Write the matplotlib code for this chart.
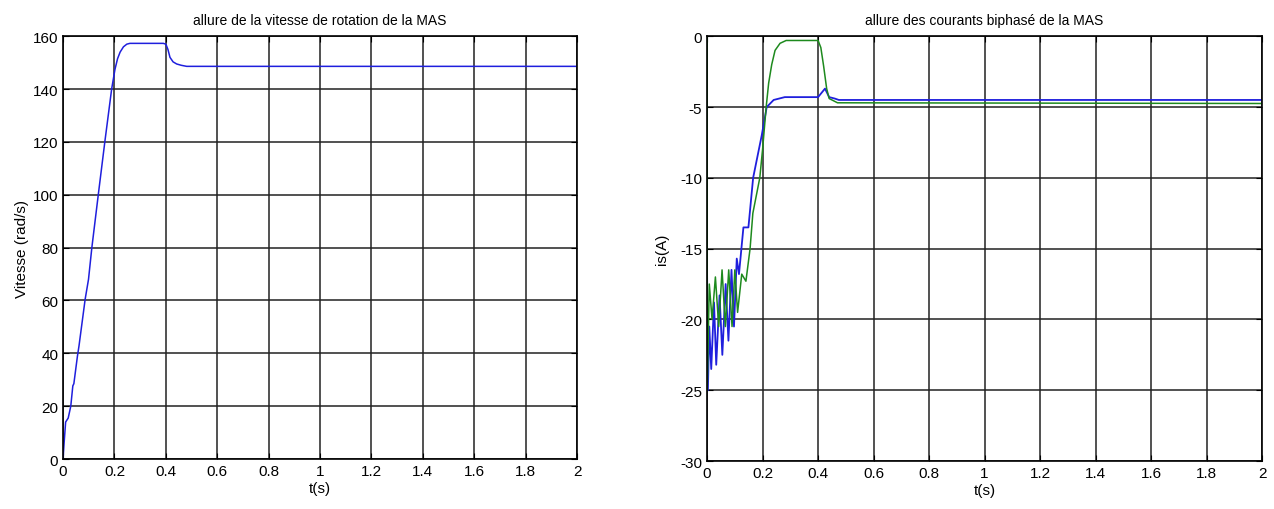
import numpy as np
import matplotlib
matplotlib.use("Agg")
import matplotlib.pyplot as plt

plt.rcParams['font.family'] = ['Liberation Sans', 'DejaVu Sans']
plt.rcParams['axes.unicode_minus'] = False

# vitesse de rotation (rad/s)
t_w = [0, 0.004, 0.010, 0.020, 0.030, 0.038, 0.042, 0.056, 0.062, 0.086, 0.099,
       0.112, 0.138, 0.163, 0.189, 0.202, 0.212, 0.222, 0.235, 0.248, 0.26, 0.39,
       0.40, 0.408, 0.416, 0.428, 0.442, 0.46, 0.481, 2.0]
w = [0, 6, 14, 15.5, 20, 27.7, 28.5, 39, 42.8, 60.5, 68,
     80, 100.8, 120.4, 140, 147.5, 151.5, 154, 156, 157, 157.3, 157.3,
     157, 155, 152, 150.3, 149.5, 149, 148.6, 148.6]

# courants biphasés (A)
t_a = [0, 0.003, 0.008, 0.015, 0.025, 0.033, 0.045, 0.055, 0.067, 0.077, 0.088,
       0.097, 0.107, 0.115, 0.131, 0.149, 0.166, 0.197, 0.215, 0.24, 0.28,
       0.40, 0.425, 0.44, 0.46, 0.475, 2.0]
i_a = [-16.5, -25, -20.5, -23.5, -18.8, -23.2, -18.3, -22.5, -17.5, -21.5, -16.5,
       -20.5, -15.7, -16.8, -13.5, -13.5, -10, -7, -5, -4.5, -4.3,
       -4.3, -3.7, -4.3, -4.4, -4.5, -4.5]

t_b = [0, 0.0005, 0.008, 0.018, 0.03, 0.042, 0.054, 0.066, 0.078, 0.09, 0.1,
       0.11, 0.125, 0.14, 0.155, 0.165, 0.19, 0.2, 0.213, 0.222, 0.233, 0.245,
       0.263, 0.285, 0.40, 0.41, 0.42, 0.431, 0.44, 0.47, 2.0]
i_b = [0, -25, -17.5, -20, -17, -20.5, -16.5, -20.5, -16.5, -20.5, -16.5,
       -19.5, -16.8, -17.3, -15, -12.5, -10, -8, -5, -3.3, -2, -1,
       -0.5, -0.3, -0.3, -0.8, -2.1, -3.7, -4.4, -4.7, -4.75]


def style(ax):
    ax.grid(True, color='#222222', linewidth=1.1)
    for s in ax.spines.values():
        s.set_linewidth(1.2)
        s.set_color('black')
    ax.tick_params(direction='in', top=True, right=True, labelsize=11, length=4)
    ax.set_xlim(0, 2)
    ax.set_xticks([0, 0.2, 0.4, 0.6, 0.8, 1, 1.2, 1.4, 1.6, 1.8, 2])
    ax.set_xticklabels(['0', '0.2', '0.4', '0.6', '0.8', '1', '1.2', '1.4', '1.6', '1.8', '2'])
    ax.set_xlabel('t(s)', fontsize=11, labelpad=2)


fig = plt.figure(figsize=(12.74, 5.1), dpi=100)

ax1 = fig.add_axes([0.0495, 0.098, 0.4035, 0.829])
ax1.plot(t_w, w, color='#1f1fdd', linewidth=1.1)
style(ax1)
ax1.set_ylim(0, 160)
ax1.set_yticks(range(0, 161, 20))
ax1.set_ylabel('Vitesse (rad/s)', fontsize=11, labelpad=3)
ax1.set_title('allure de la vitesse de rotation de la MAS', fontsize=10, pad=9)

ax2 = fig.add_axes([0.555, 0.094, 0.4356, 0.833])
ax2.plot(t_a, i_a, color='#1f1fdd', linewidth=1.3)
ax2.plot(t_b, i_b, color='#1e8a1e', linewidth=1.1)
style(ax2)
ax2.set_ylim(-30, 0)
ax2.set_yticks(range(-30, 1, 5))
ax2.set_ylabel('is(A)', fontsize=11, labelpad=8)
ax2.set_title('allure des courants biphasé de la MAS', fontsize=10, pad=9)

fig.savefig('out.png', dpi=100)
